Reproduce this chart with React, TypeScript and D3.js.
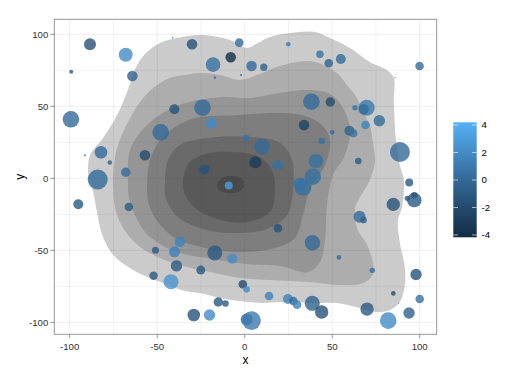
import React from "react";
import * as d3 from "d3";

const W = 527;
const H = 377;

const xTicks = [-100, -50, 0, 50, 100];
const yTicks = [-100, -50, 0, 50, 100];
const minorTicks = [-75, -25, 25, 75];
const legendTicks = [-4, -2, 0, 2, 4];

// points: x, y, colour value z, size (radius units)
const ptX = [-88.4, -68.0, -99.1, -64.2, -99.3, -40.2, -48.0, -82.1, -91.3, -77.1, -57.0, -68.0, -84.0, -41.1, -30.1, -3.1, 24.9, -18.1, -8.0, 3.9, 10.9, -17.0, -2.1, -24.1, -19.1, 38.1, 33.9, 0.9, 9.9, 6.1, 18.9, -23.1, 40.7, 38.9, 43.0, 48.0, 54.9, 99.9, 48.9, 63.0, 69.7, 68.0, 76.9, 69.0, 59.8, 62.1, 50.0, 44.0, 88.7, 64.9, 94.0, 33.3, 31.6, -9.1, 19.0, 38.7, 53.8, -37.0, -51.0, -40.1, -17.1, -7.1, -39.0, -25.1, -52.1, -42.1, -95.1, -66.2, -1.1, 1.1, -15.1, -11.0, -29.1, -20.1, 1.1, 3.9, 13.9, 24.7, 27.8, 29.9, 38.6, 44.0, 69.9, 82.0, 93.9, 100.0, 84.9, 97.9, 72.9, 84.9, 92.9, 96.9, 96.9, 65.6, 67.9, 85.9, 87.8];
const ptY = [93.1, 85.8, 74.0, 71.0, 41.0, 47.9, 31.9, 18.1, 16.0, 11.0, 16.0, 4.2, -0.8, 97.6, 93.1, 94.2, 93.1, 78.9, 84.0, 78.0, 77.1, 70.0, 71.7, 49.0, 38.2, 53.2, 37.0, 28.0, 21.9, 11.1, 9.1, 6.1, 12.0, 1.1, 86.1, 79.9, 82.8, 78.0, 53.0, 49.0, 49.0, 47.9, 40.0, 37.0, 33.1, 31.3, 31.9, 25.9, 18.3, 12.0, -2.9, -6.4, -4.0, -5.0, -34.7, -44.7, -54.9, -44.0, -49.9, -51.0, -51.9, -55.8, -60.8, -63.7, -67.7, -71.8, -18.0, -19.9, -73.6, -77.1, -85.9, -86.9, -94.9, -94.9, -98.1, -98.8, -81.7, -83.8, -85.2, -87.8, -86.8, -92.8, -90.8, -98.8, -93.5, -83.8, -79.9, -66.8, -63.9, -18.1, -13.9, -11.8, -15.1, -26.7, -29.0, 69.9, -86.8];
const ptZ = [-1.5, 2, -1, -0.5, 0, -1.5, 0, 0, 0, -0.5, -2, 0, 0, 0, -1.5, 0, 1, 0.5, -4, 0, -0.5, 0, -1, 0, 2, 0, -2.5, 0.5, 0, -3, 0.5, -1.5, 0.5, 0.5, 0.5, -0.5, 0, 0, -2, 0.5, 1, 0, 0, 1.5, -0.5, 0.5, 0, 0.5, 0, -1, -1, 0.5, 0.5, 3.2, -1.5, 0, 0, 1.5, -1, 1.5, -1, 2, -1, -1, -1, 2.5, -1, -1, -2, 2, -1, -1, -1.5, 2, 0, 1, 1.5, 1.5, 0, 1.5, -0.5, -1.5, -1, 2, -0.5, 0.5, -2, -1.5, 0, -1.5, -1, -2, -1, 0, -0.5, 0, 0];
const ptSize = [6, 7, 2, 5.3, 8.3, 5, 8.3, 6.3, 1, 2.3, 5.3, 4.7, 10, 0.8, 5.3, 4.3, 2.3, 7.3, 5.3, 5.3, 3.7, 1.3, 1, 8.3, 5.7, 8.3, 5.3, 3.3, 7.7, 6, 5.3, 5, 7.3, 8.3, 3.7, 4.3, 5, 4.3, 4.7, 2.7, 8, 5.3, 5.7, 4.3, 5, 4, 2.3, 3.3, 10, 3.3, 4, 8.3, 6.5, 4, 4.3, 7.7, 2.3, 5.3, 3.5, 5.5, 7.5, 5, 5.7, 4.5, 4.2, 7.5, 5, 4.3, 4.3, 3.3, 4.7, 3.3, 6.3, 5.7, 6, 9.3, 4.3, 5, 4.3, 4.3, 7.5, 6.7, 6.7, 8.3, 5.7, 4.3, 2.3, 5.7, 2.7, 6.7, 2.7, 3.3, 7.3, 6, 3.3, 0.7, 0.5];

// density contour levels (outer to inner), in data units
const level1: [number, number][] = [[-89.4, 2.3], [-88.3, 16.2], [-80.9, 28.0], [-72.9, 44.0], [-67.2, 60.0], [-61.5, 78.7], [-55.8, 87.7], [-48.4, 94.0], [-38.6, 97.4], [-25.5, 99.5], [-12.4, 97.4], [-5.5, 94.7], [1.3, 90.5], [7.6, 94.0], [14.4, 98.1], [25.9, 100.9], [40.1, 101.6], [48.7, 97.4], [60.1, 90.5], [71.5, 80.8], [81.2, 75.2], [85.2, 69.7], [85.2, 54.4], [86.4, 26.6], [88.6, 9.2], [90.9, -1.2], [89.8, -20.6], [87.5, -29.0], [88.6, -44.2], [91.5, -62.3], [91.5, -74.1], [88.6, -85.9], [82.9, -91.5], [75.5, -92.9], [65.8, -90.1], [52.7, -86.6], [40.1, -86.6], [20.1, -85.9], [10.4, -86.6], [-2.7, -85.2], [-14.1, -83.1], [-25.5, -79.7], [-34.1, -78.3], [-48.4, -72.0], [-63.8, -63.6], [-75.2, -53.3], [-81.4, -39.4], [-84.3, -24.1], [-86.6, -9.5]];
const level2: [number, number][] = [[-75.1, 2.3], [-72.9, 21.0], [-65.5, 41.9], [-58.0, 55.8], [-50.1, 64.8], [-42.6, 69.7], [-34.1, 71.7], [-25.5, 73.1], [-14.1, 71.7], [-2.7, 68.3], [7.0, 71.7], [18.4, 77.3], [29.9, 80.8], [40.1, 80.8], [52.7, 73.1], [58.4, 64.8], [64.1, 55.8], [67.5, 46.0], [71.5, 37.0], [73.2, 25.2], [74.4, 11.3], [71.5, -1.2], [63.1, -20.6], [64.2, -34.5], [69.9, -46.3], [73.2, -58.5], [73.2, -67.2], [67.5, -72.8], [52.7, -74.1], [37.3, -72.0], [14.4, -70.6], [-2.7, -69.2], [-19.8, -65.1], [-36.9, -60.2], [-48.4, -55.3], [-59.8, -47.7], [-69.5, -34.5], [-74.0, -20.6], [-75.1, -6.7]];
const level3: [number, number][] = [[-66.7, -1.2], [-65.5, 19.7], [-57.0, 35.6], [-46.7, 45.3], [-34.1, 52.3], [-22.7, 55.1], [-11.3, 56.5], [3.0, 55.8], [20.2, 59.2], [35.6, 61.3], [48.7, 58.5], [56.2, 48.8], [60.2, 33.5], [57.3, 16.2], [50.5, 2.3], [47.0, -18.5], [45.9, -42.8], [43.0, -58.1], [36.2, -65.1], [20.2, -60.9], [1.3, -59.5], [-18.1, -56.0], [-37.0, -51.9], [-48.4, -45.6], [-57.0, -37.3], [-62.7, -25.5], [-66.1, -13.7]];
const level4: [number, number][] = [[-55.8, -4.7], [-54.1, 12.7], [-48.4, 26.6], [-39.8, 35.6], [-28.4, 41.9], [-2.7, 44.0], [20.2, 45.3], [34.5, 43.3], [44.2, 37.0], [48.7, 26.6], [45.9, 9.2], [37.3, -8.1], [33.3, -25.5], [28.7, -41.5], [17.3, -48.4], [-2.7, -51.2], [-22.7, -48.4], [-39.8, -41.5], [-49.5, -30.3], [-54.7, -18.5]];
const level5: [number, number][] = [[-45.5, -1.2], [-43.8, 12.7], [-37.0, 23.1], [-21.5, 28.0], [3.0, 28.7], [20.2, 24.5], [27.0, 12.7], [27.6, -8.1], [24.2, -25.5], [12.7, -35.2], [-2.7, -38.0], [-21.5, -35.9], [-38.1, -26.9], [-45.0, -13.7]];
const level6: [number, number][] = [[-35.3, -1.2], [-31.3, 11.3], [-22.7, 16.9], [-6.7, 18.3], [7.0, 15.5], [15.0, 7.2], [17.3, -8.1], [14.5, -23.4], [1.3, -30.3], [-15.8, -28.3], [-29.5, -19.2], [-34.7, -9.5]];
const level7: [number, number][] = [[-15.8, -4.7], [-13.0, 0.2], [-7.3, 1.6], [-1.5, -0.5], [-0.4, -5.3], [-3.8, -9.5], [-10.1, -10.2], [-14.7, -8.1]];
const levels = [level1, level2, level3, level4, level5, level6, level7];
const levelAlpha = [0.255, 0.197, 0.197, 0.224, 0.263, 0.3, 0.385];

const colourDomain: [number, number] = [-4.17, 4.2];

export default function App() {
  const x = d3.scaleLinear().domain([-108.8, 109.7]).range([54.3, 436.7]);
  const y = d3.scaleLinear().domain([-108.3, 110.4]).range([334.3, 19.3]);
  const r = d3.scaleLinear().domain([0, 10]).range([0, 10]);
  const col = d3
    .scaleLinear<string>()
    .domain(colourDomain)
    .range(["#132B43", "#56B1F7"])
    .interpolate(d3.interpolateLab);
  const ly = d3.scaleLinear().domain(colourDomain).range([237.3, 122.3]);

  const line = d3
    .line<[number, number]>()
    .x((d) => x(d[0]))
    .y((d) => y(d[1]))
    .curve(d3.curveCatmullRomClosed.alpha(0.5));

  const [x0, x1] = x.range();
  const [y0, y1] = y.range();
  const font = "'Liberation Sans', Arial, Helvetica, sans-serif";

  // gradient stops from top (high) to bottom (low), offsets ascending
  const stops = d3.range(0, 21).map((i) => {
    const t = i / 20;
    const v = colourDomain[1] - t * (colourDomain[1] - colourDomain[0]);
    return { off: `${t * 100}%`, c: col(v) };
  });

  const pts = ptX.map((_, i) => i);

  return (
    <svg
      width={W}
      height={H}
      style={{ position: "absolute", left: 0, top: 0, background: "#fff" }}
      fontFamily={font}
    >
      <defs>
        <linearGradient id="cb" x1="0" y1="0" x2="0" y2="1">
          {stops.map((s, i) => (
            <stop key={i} offset={s.off} stopColor={s.c} />
          ))}
        </linearGradient>
        <clipPath id="panel">
          <rect x={x0} y={y1} width={x1 - x0} height={y0 - y1} />
        </clipPath>
      </defs>
      <rect x={x0} y={y1} width={x1 - x0} height={y0 - y1} fill="#fff" />
      {minorTicks.map((t) => (
        <g key={"m" + t}>
          <line x1={x(t)} x2={x(t)} y1={y1} y2={y0} stroke="#f2f2f2" strokeWidth={1} />
          <line x1={x0} x2={x1} y1={y(t)} y2={y(t)} stroke="#f2f2f2" strokeWidth={1} />
        </g>
      ))}
      {xTicks.map((t) => (
        <line key={"gx" + t} x1={x(t)} x2={x(t)} y1={y1} y2={y0} stroke="#e6e6e6" strokeWidth={0.7} />
      ))}
      {yTicks.map((t) => (
        <line key={"gy" + t} x1={x0} x2={x1} y1={y(t)} y2={y(t)} stroke="#e6e6e6" strokeWidth={0.7} />
      ))}
      <g clipPath="url(#panel)">
        {levels.map((lv, i) => (
          <path key={"lv" + i} d={line(lv) || ""} fill="#333333" fillOpacity={levelAlpha[i]} />
        ))}
        {pts.map((i) => (
          <circle
            key={"p" + i}
            cx={x(ptX[i])}
            cy={y(ptY[i])}
            r={r(ptSize[i])}
            fill={col(ptZ[i])}
            fillOpacity={0.8}
          />
        ))}
      </g>
      <rect x={x0} y={y1} width={x1 - x0} height={y0 - y1} fill="none" stroke="#8c8c8c" strokeWidth={0.9} />
      {xTicks.map((t) => (
        <g key={"xt" + t}>
          <line x1={x(t)} x2={x(t)} y1={y0} y2={y0 + 4} stroke="#7f7f7f" strokeWidth={0.8} />
          <text x={x(t)} y={y0 + 16} textAnchor="middle" fontSize={9.6} fill="#333">
            {t}
          </text>
        </g>
      ))}
      {yTicks.map((t) => (
        <g key={"yt" + t}>
          <line x1={x0 - 4} x2={x0} y1={y(t)} y2={y(t)} stroke="#7f7f7f" strokeWidth={0.8} />
          <text x={x0 - 6} y={y(t) + 3.4} textAnchor="end" fontSize={9.6} fill="#333">
            {t}
          </text>
        </g>
      ))}
      <text x={(x0 + x1) / 2} y={364} textAnchor="middle" fontSize={12} fill="#000">
        x
      </text>
      <text
        transform={`translate(24, ${(y0 + y1) / 2}) rotate(-90)`}
        textAnchor="middle"
        fontSize={12}
        fill="#000"
      >
        y
      </text>
      <rect x={453.3} y={122.3} width={23.4} height={115} fill="url(#cb)" />
      {legendTicks.map((t) => (
        <g key={"lt" + t}>
          <line x1={453.3} x2={458} y1={ly(t)} y2={ly(t)} stroke="#fff" strokeWidth={0.6} />
          <line x1={472} x2={476.7} y1={ly(t)} y2={ly(t)} stroke="#fff" strokeWidth={0.6} />
          <text x={481.5} y={ly(t) + 3.4} fontSize={9.6} fill="#000">
            {t}
          </text>
        </g>
      ))}
    </svg>
  );
}
